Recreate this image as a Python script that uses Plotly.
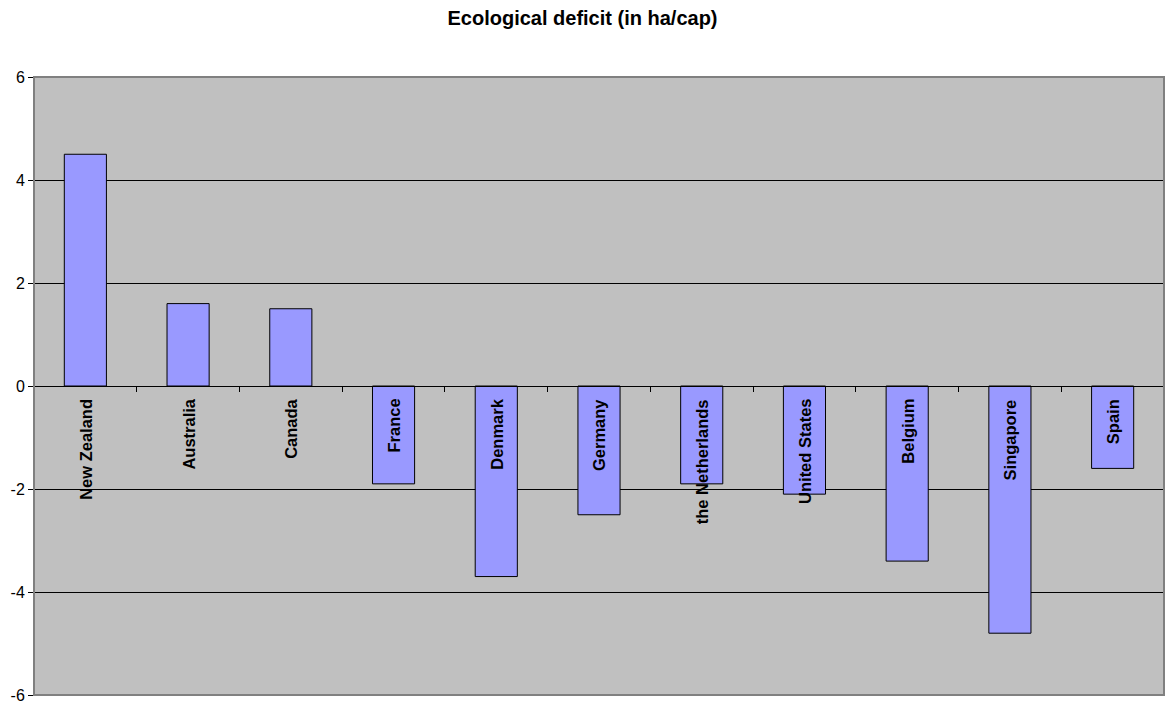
import plotly.graph_objects as go

countries = ["New Zealand", "Australia", "Canada", "France", "Denmark", "Germany",
             "the Netherlands", "United States", "Belgium", "Singapore", "Spain"]
deficit = [4.5, 1.6, 1.5, -1.9, -3.7, -2.5, -1.9, -2.1, -3.4, -4.8, -1.6]
y_ticks = [-6, -4, -2, 0, 2, 4, 6]
y_tick_labels = [str(v) for v in y_ticks]

fig = go.Figure()
fig.add_trace(go.Bar(
    x=countries, y=deficit, width=0.41,
    marker=dict(color="#9999FF", line=dict(color="black", width=1)),
    showlegend=False,
))

for c in countries:
    fig.add_annotation(x=c, y=0, xref="x", yref="y", text="<b>%s</b>" % c,
                       textangle=-90, showarrow=False, yanchor="top", xanchor="center",
                       yshift=-11, font=dict(family="Arial", size=16.5, color="black"))

# plot area border (gray)
fig.add_shape(type="rect", xref="paper", yref="paper", x0=0, x1=1, y0=0, y1=1,
              line=dict(color="#808080", width=2), layer="above")

fig.update_layout(
    width=1165, height=703,
    margin=dict(l=34, r=1, t=77, b=8, autoexpand=False),
    paper_bgcolor="white", plot_bgcolor="#C0C0C0",
    title=dict(text="<b>Ecological deficit (in ha/cap)</b>", x=0.5, xanchor="center",
               y=0.975, yanchor="middle", font=dict(family="Arial", size=20, color="black")),
    font=dict(family="Arial", size=16, color="black"),
    bargap=0.59,
    xaxis=dict(anchor="free", position=0.5, showline=True, linecolor="black", linewidth=1,
               showticklabels=False, ticks="outside", ticklen=5, tickcolor="black",
               tickson="boundaries", showgrid=False, zeroline=False, automargin=False),
    yaxis=dict(range=[-6, 6], tickvals=y_ticks, ticktext=y_tick_labels,
               ticklabeloverflow="allow", automargin=False,
               showline=True, linecolor="black", linewidth=1,
               ticks="outside", ticklen=5, tickcolor="black", showgrid=True,
               gridcolor="black", gridwidth=1, zeroline=False,
               tickfont=dict(family="Arial", size=16, color="black")),
)

fig.write_html("out.html")
